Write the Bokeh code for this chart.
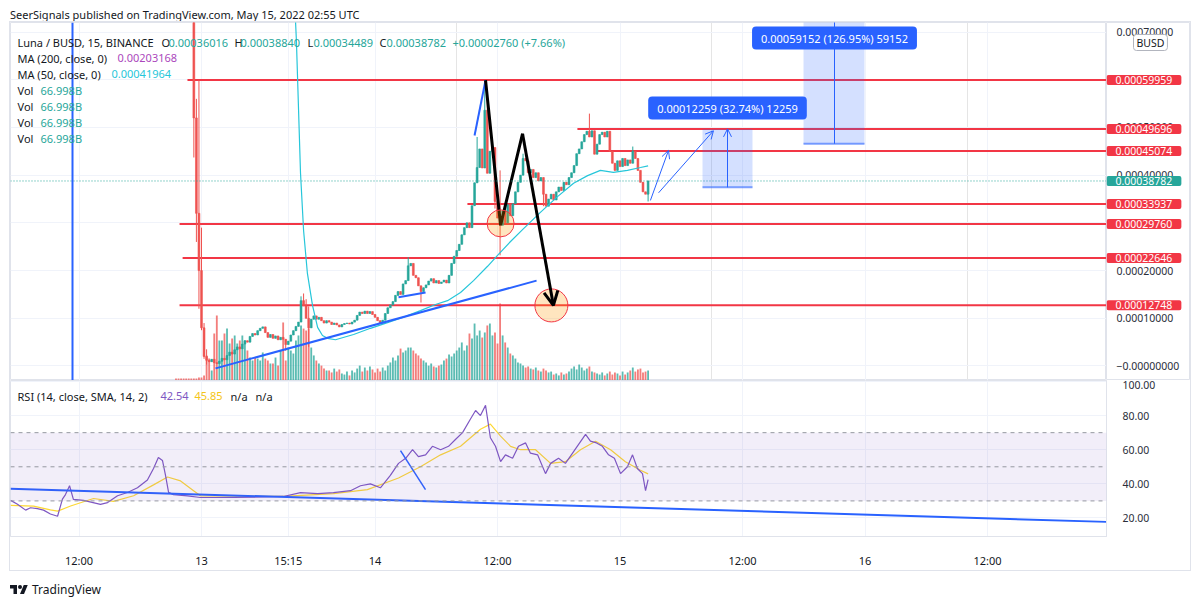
import numpy as np
from bokeh.plotting import figure
from bokeh.layouts import column, row
from bokeh.models import (Range1d, FixedTicker, PrintfTickFormatter, Label, Span, Arrow,
                          OpenHead, Div, BoxAnnotation, Grid)
from bokeh.core.properties import value
from bokeh.embed import file_html
from bokeh.resources import INLINE

UNIT = 1e-5  # prices below are listed in units of 0.00001 BUSD

# ---------------- data ----------------
# 15-minute bars, bar 0 = May 13 00:00 (time axis compresses the halted hours)
candle_first_bar = -3
candle_first_open = 76.0
candle_close = [
    52, 32, 20, 8, 2.0, 1.2, 0.9, 1.4, 0.7, 0.5,
    1.0, 1.6, 1.3, 2.2, 2.9, 2.5, 3.4, 4.0, 3.6, 4.6,
    5.3, 5.0, 6.2, 6.8, 6.5, 7.4, 7.9, 8.2, 7.0, 6.0,
    6.6, 5.8, 6.3, 5.5, 6.0, 5.6, 4.5, 5.2, 6.5, 7.4,
    8.3, 9.2, 13.7, 12.6, 10.0, 8.0, 9.8, 10.5, 9.8, 10.2,
    9.5, 9.0, 9.5, 9.2, 8.7, 9.0, 8.6, 8.2, 8.7, 8.9,
    9.0, 8.8, 9.2, 9.6, 10.6, 11.3, 11.0, 11.5, 11.0, 11.4,
    10.8, 10.2, 9.5, 9.0, 9.6, 11.0, 12.2, 12.8, 13.5, 14.8,
    15.6, 15.0, 17.2, 17.9, 21.0, 21.5, 19.0, 18.5, 16.8, 15.6,
    16.4, 17.0, 17.8, 18.3, 17.4, 17.9, 17.3, 17.6, 18.0, 17.4,
    19.0, 21.5, 23.0, 24.2, 25.5, 27.5, 29.0, 30.0, 29.0, 33.6,
    38.4, 41.6, 45.5, 41.5, 53.6, 40.4, 45.0, 45.8, 34.5, 31.0,
    29.5, 32.5, 30.0, 33.8, 31.5, 34.0, 36.5, 38.5, 40.0, 43.5,
    43.0, 40.5, 41.2, 39.5, 40.5, 38.8, 39.5, 36.0, 33.5, 35.0,
    36.0, 34.8, 36.5, 37.5, 36.8, 38.5, 38.0, 39.5, 40.5, 42.0,
    44.5, 45.5, 47.0, 48.5, 49.2, 48.0, 49.3, 44.4, 46.5, 48.5,
    49.0, 48.0, 49.2, 45.0, 42.5, 41.0, 43.0, 41.8, 43.5, 42.0,
    43.2, 42.5, 45.0, 43.5, 41.0, 38.5, 36.5, 36.016, 38.782,
]
candle_high = {-3: 78, -2: 56, -1: 59.9, 0: 29, 1: 9, 2: 3.5, 39: 14.6, 40: 15.2, 41: 14,
               42: 12.5, 81: 22.8, 108: 48, 111: 59.9, 112: 56, 117: 41, 126: 44.5,
               152: 52.9, 169: 46, 175: 38.84}
candle_low = {-3: 43.7, -2: 26, -1: 12, 0: 7.5, 1: 1.5, 2: 0.3, 33: 3.2, 42: 4.0, 86: 13.3,
              115: 33, 117: 23.2, 134: 33.5, 175: 34.489}

volume_first_bar = -10
volume_b = [  # billions of LUNA per bar
    13, 13, 13, 13, 13, 13, 13,
    13, 13, 20, 20, 34, 168, 147, 67, 315, 436, 268,
    268, 315, 348, 248, 281, 302, 248, 268, 302, 268,
    201, 154, 134, 154, 147, 134, 188, 147, 134, 114,
    114, 154, 100, 201, 389, 134, 221, 201, 181, 268,
    302, 369, 348, 335, 348, 221, 168, 134, 114, 100,
    80, 67, 67, 54, 80, 60, 74, 47, 40, 60,
    34, 67, 54, 80, 100, 60, 87, 67, 94, 74,
    54, 80, 60, 87, 67, 100, 121, 154, 134, 168,
    214, 188, 201, 221, 221, 201, 181, 168, 147, 134,
    121, 100, 114, 94, 87, 100, 107, 134, 147, 174,
    161, 181, 201, 221, 255, 201, 235, 315, 281, 382,
    302, 335, 288, 322, 369, 382, 302, 322, 248, 516,
    302, 255, 221, 181, 168, 147, 121, 114, 100, 87,
    94, 80, 74, 87, 67, 60, 80, 67, 54, 60,
    40, 47, 34, 54, 40, 47, 60, 80, 94, 74,
    107, 87, 67, 80, 94, 60, 54, 47, 40, 54,
    34, 47, 60, 40, 54, 47, 34, 60, 40, 54,
    67, 87, 60, 74, 80, 54, 60, 66.998,
]

ma50_bar = [36.2, 37.2, 38.8, 40.0, 41.5, 43.5, 45.5, 47.4, 49.4, 52.5, 59.6, 66.2, 72.9,
            80.0, 85.8, 91.7, 96.4, 101.5, 106.6, 112.1, 116.0, 121.1, 126.2, 132.8, 139.5,
            145.8, 151.3, 156.3, 161.4, 166.9, 172.0, 175.0]
ma50 = [80, 68, 40.4, 28.4, 19.4, 12.7, 8.1, 6.4, 5.8, 5.5, 6.6, 7.9, 9.1,
        10.4, 11.6, 12.9, 13.7, 15.4, 17.9, 20.9, 23.2, 26.1, 28.8, 32.2, 35.5,
        38.3, 39.9, 41.0, 40.6, 41.0, 41.6, 41.964]

rsi_bar = [-74.8, -72.1, -68.9, -67.0, -64.3, -61.9, -59.2, -56.4, -54.5, -53.3, -51.7, -50.2,
           -46.2, -39.6, -36.8, -32.9, -29.0, -25.1, -21.2, -18.8, -16.9, -15.3, -14.1, -12.9,
           -11.0, -5.5, -0.4, 12.5, 32.1, 38.8, 45.5, 51.7, 58.4, 62.3, 66.2, 70.1, 74.0, 77.2,
           80.0, 82.7, 85.0, 87.8, 90.5, 93.7, 96.8, 99.5, 102.3, 105.4, 107.4, 109.3, 111.3,
           113.2, 115.2, 117.2, 119.1, 121.9, 124.2, 127.0, 128.9, 131.7, 134.8, 136.8, 139.9,
           142.6, 145.4, 147.7, 150.5, 152.4, 154.8, 157.1, 159.5, 161.8, 164.2, 166.9, 168.9,
           170.8, 172.8, 174.0, 175.0]
rsi = [30.3, 28, 24.6, 26, 25.5, 24.6, 22.3, 21, 31, 33.7, 38.9, 30.9,
       30.3, 28, 29, 33, 34.9, 37.7, 42.3, 49, 55.4, 53.7, 45, 35,
       33.7, 33, 32, 32, 32.6, 34.9, 34.3, 34.9, 36, 38.9, 40, 37.7, 45, 52,
       55, 60, 56, 57, 62, 60, 62, 66, 70, 78, 83, 80, 86,
       67, 62, 53, 57, 55, 62, 64, 58, 57, 46, 52, 55,
       52, 58, 63, 69, 65, 64, 62, 57, 55, 46, 50, 57,
       49, 46, 36, 42.54]
rsi_sma_bar = [-74.8, -65.8, -59.2, -56.4, -51.3, -42.3, -34.5, -26.6, -18.8, -13.3, -8.2, -3.1,
               -0.4, 32.1, 51.7, 65.0, 77.2, 85.8, 93.7, 101.5, 109.3, 113.2, 117.2, 121.1,
               125.0, 130.9, 136.8, 142.6, 148.5, 154.4, 160.3, 166.1, 172.0, 175.0]
rsi_sma = [27.4, 26.9, 24.7, 24, 27, 31.4, 29.7, 33, 39.4, 44, 41.7, 36,
           33, 32.6, 34.3, 36.6, 43.4, 50, 57, 62, 72, 75, 68, 62,
           60, 60, 52, 53, 60, 65, 60, 53, 48, 45.85]

levels = [59.959, 49.696, 45.074, 33.937, 29.760, 22.646, 12.748]
level_start_bar = [-5.5, 147.3, 155.2, 104.2, -8.6, -7.4, -8.6]
last_close = 38.782

time_ticks = [-48, 0, 34, 68, 116, 164, 212, 260, 308]
time_labels = ["12:00", "13", "15:15", "14", "12:00", "15", "12:00", "16", "12:00"]
price_ticks = [0, 10, 20, 30, 40, 50, 60, 70]
price_tick_labels = ["\u22120.00000000", "0.00010000", "0.00020000", "0.00030000",
                     "0.00040000", "0.00050000", "0.00060000", "0.00070000"]
rsi_ticks = [20, 40, 60, 80, 100]

# measured moves (start price and move size)
move1_base, move1_size = 37.443, 12.259
move2_base, move2_size = 46.595, 59.152

# ---------------- geometry ----------------
W = 1200
PAD = 10                      # page margin left/right of the chart box
FRAME_L, FRAME_R = 10, 1106   # page x of the plotting area
SCALE_W = 84                  # width of the price scale column
MAIN_T, MAIN_B = 22, 380
RSI_T, RSI_B = 380, 540
BAR0_PX, PX_PER_BAR = 201, 2.552
x_lo = (FRAME_L - BAR0_PX) / PX_PER_BAR
x_hi = (FRAME_R - BAR0_PX) / PX_PER_BAR
p_lo, p_hi = -3.04 * UNIT, 72.0 * UNIT
r_lo, r_hi = 9.14, 100.57


def bx(px):
    return x_lo + (px - FRAME_L) * (x_hi - x_lo) / (FRAME_R - FRAME_L)


def py(y):
    return p_hi - (y - MAIN_T) * (p_hi - p_lo) / (MAIN_B - MAIN_T)


def ry(y):
    return r_hi - (y - RSI_T) * (r_hi - r_lo) / (RSI_B - RSI_T)


FONT = "Noto Sans"
DARK = "#131722"
AXIS_TXT = "#2a2e39"
TEAL = "#26a69a"
RED = "#ef5350"
LINE_RED = "#f23645"
BLUE = "#2962ff"
GRID = "#f0f3fa"
BORDER = "#e0e3eb"

x_range = Range1d(x_lo, x_hi)
price_range = Range1d(p_lo, p_hi)

# ---------------- main pane ----------------
p = figure(width=FRAME_R - FRAME_L, height=MAIN_B - MAIN_T, x_range=x_range, y_range=price_range,
           x_axis_location=None, y_axis_location=None, output_backend="svg",
           toolbar_location=None, min_border_left=0, min_border_right=0,
           min_border_top=0, min_border_bottom=0)
p.outline_line_color = BORDER
p.background_fill_color = "white"
p.add_layout(Grid(dimension=0, ticker=FixedTicker(ticks=time_ticks), grid_line_color=GRID))
p.add_layout(Grid(dimension=1, ticker=FixedTicker(ticks=[t * UNIT for t in price_ticks]),
                  grid_line_color=GRID))

# volume overlay
p.extra_y_ranges = {"vol": Range1d(0, 2400)}
n_c = len(candle_close)
c_bars = np.arange(candle_first_bar, candle_first_bar + n_c)
c_close = np.array(candle_close, dtype=float)
c_open = np.concatenate([[candle_first_open], c_close[:-1]])
c_up = c_close >= c_open
c_high = np.array([candle_high.get(int(b), max(o, c)) for b, o, c in zip(c_bars, c_open, c_close)])
c_low = np.array([candle_low.get(int(b), min(o, c)) for b, o, c in zip(c_bars, c_open, c_close)])
c_col = [TEAL if u else RED for u in c_up]

v_bars = np.arange(volume_first_bar, volume_first_bar + len(volume_b))
dir_by_bar = dict(zip(c_bars.tolist(), c_up.tolist()))
v_col = [TEAL if dir_by_bar.get(int(b), False) else RED for b in v_bars]
p.vbar(x=v_bars, width=0.72, bottom=0, top=volume_b, y_range_name="vol",
       fill_color=v_col, fill_alpha=0.75, line_color=None)

# horizontal levels
for lv, start in zip(levels, level_start_bar):
    p.segment(x0=start, y0=lv * UNIT, x1=x_hi, y1=lv * UNIT, line_color=LINE_RED, line_width=2)

# last price line
p.add_layout(Span(location=last_close * UNIT, dimension="width", line_color=TEAL,
                  line_dash="1 2", line_width=1))

# candles
p.segment(x0=c_bars, y0=c_low * UNIT, x1=c_bars, y1=c_high * UNIT, line_color=c_col, line_width=1)
p.vbar(x=c_bars, width=0.72, bottom=np.minimum(c_open, c_close) * UNIT,
       top=np.maximum(c_open, c_close) * UNIT, fill_color=c_col, line_color=c_col, line_width=0.6)

# moving average 50
p.line(ma50_bar, [v * UNIT for v in ma50], line_color="#26c6da", line_width=1.2)

# drawings
p.add_layout(Span(location=bx(72), dimension="height", line_color=BLUE, line_width=2))
trend_x, trend_y = [5.5, 131.3], [-0.5, 17.9]
p.line(trend_x, [v * UNIT for v in trend_y], line_color=BLUE, line_width=2)
p.line([77.2, 87.8], [14.4 * UNIT, 15.4 * UNIT], line_color=BLUE, line_width=2)
p.line([107.0, 111.3], [48.3 * UNIT, 59.9 * UNIT], line_color=BLUE, line_width=2)

zig_x, zig_y = [111.3, 117.2, 125.8], [59.9, 29.5, 48.7]
p.line(zig_x, [v * UNIT for v in zig_y], line_color="black", line_width=3)
p.add_layout(Arrow(end=OpenHead(size=14, line_color="black", line_width=3),
                   x_start=125.8, y_start=48.7 * UNIT, x_end=137.9, y_end=12.7 * UNIT,
                   line_color="black", line_width=3))
p.scatter([117.2, 137.1], [29.9 * UNIT, 12.7 * UNIT], size=[27, 33], marker="circle",
          fill_color="#ff9800", fill_alpha=0.25, line_color=LINE_RED, line_width=1)

for (xs, ys, xe, ye) in [(175.9, 34.7, 183.0, 45.2), (179.1, 36.3, 200.6, 49.3)]:
    p.add_layout(Arrow(end=OpenHead(size=8, line_color=BLUE, line_width=1),
                       x_start=xs, y_start=ys * UNIT, x_end=xe, y_end=ye * UNIT,
                       line_color=BLUE, line_width=1))

# measured moves
m1_l, m1_r, m1_c = bx(702), bx(752), bx(727)
p.add_layout(BoxAnnotation(left=m1_l, right=m1_r, bottom=move1_base * UNIT,
                           top=(move1_base + move1_size) * UNIT, fill_color=BLUE,
                           fill_alpha=0.2, line_color=None))
p.segment(x0=m1_l, y0=move1_base * UNIT, x1=m1_r, y1=move1_base * UNIT, line_color=BLUE,
          line_alpha=0.6, line_width=2)
p.add_layout(Arrow(end=OpenHead(size=8, line_color=BLUE, line_width=1), x_start=m1_c,
                   y_start=move1_base * UNIT, x_end=m1_c, y_end=(move1_base + move1_size) * UNIT,
                   line_color=BLUE, line_width=1))
m2_l, m2_r, m2_c = bx(803), bx(864), bx(834)
p.add_layout(BoxAnnotation(left=m2_l, right=m2_r, bottom=move2_base * UNIT,
                           top=(move2_base + move2_size) * UNIT, fill_color=BLUE,
                           fill_alpha=0.2, line_color=None))
p.segment(x0=m2_l, y0=move2_base * UNIT, x1=m2_r, y1=move2_base * UNIT, line_color=BLUE,
          line_alpha=0.6, line_width=2)
p.segment(x0=m2_c, y0=move2_base * UNIT, x1=m2_c, y1=(move2_base + move2_size) * UNIT,
          line_color=BLUE, line_width=1)


def move_text(size, base):
    return f"{size * UNIT:.8f} ({size / base * 100:.2f}%) {round(size * 1000)}"


for cx, cy, size, base in [(m1_c, py(107.5), move1_size, move1_base),
                           (m2_c, py(37.5), move2_size, move2_base)]:
    p.add_layout(Label(x=cx, y=cy, text=move_text(size, base), text_align="center",
                       text_baseline="middle", text_color="white", text_font=FONT,
                       text_font_size="11px", background_fill_color=BLUE,
                       padding=(9, 4), border_radius=4))


def legend(fig, yconv, ypx, parts, size="11px"):
    for txt, xpx, col in parts:
        fig.add_layout(Label(x=bx(xpx), y=yconv(ypx), text=txt, text_align="left",
                             text_baseline="middle", text_color=col, text_font=FONT,
                             text_font_size=size))


legend(p, py, 42, [("Luna / BUSD, 15, BINANCE", 17, DARK), ("O", 161, DARK),
                   ("0.00036016", 168, TEAL), ("H", 234, DARK), ("0.00038840", 240, TEAL),
                   ("L", 307, DARK), ("0.00034489", 313, TEAL), ("C", 379, DARK),
                   ("0.00038782", 386, TEAL), ("+0.00002760 (+7.66%)", 452, TEAL)])
legend(p, py, 57.5, [("MA (200, close, 0)", 17, DARK), ("0.00203168", 117, "#ab47bc")])
legend(p, py, 73.5, [("MA (50, close, 0)", 17, DARK), ("0.00041964", 111, "#26c6da")])
for yy in [90, 106, 122, 138]:
    legend(p, py, yy, [("Vol", 17, DARK), ("66.998B", 40, TEAL)])

# ---------------- price scale (right of the main pane) ----------------
s = figure(width=SCALE_W, height=MAIN_B - MAIN_T, x_range=Range1d(0, SCALE_W),
           y_range=price_range, x_axis_location=None, y_axis_location=None,
           output_backend="svg", toolbar_location=None, min_border_left=0,
           min_border_right=0, min_border_top=0, min_border_bottom=0)
s.outline_line_color = BORDER
s.grid.grid_line_color = None
s.text(x=[10] * len(price_ticks), y=[t * UNIT for t in price_ticks], text=price_tick_labels,
       text_align="left", text_baseline="middle", text_font=value(FONT),
       text_font_size="10.5px", text_color=AXIS_TXT)
for lv in levels:
    s.add_layout(Label(x=0, y=lv * UNIT, text=f"{lv * UNIT:.8f}", text_align="left",
                       text_baseline="middle", text_color="white", text_font=FONT,
                       text_font_size="10.5px", background_fill_color=LINE_RED,
                       padding=(9, 1), border_radius=2))
s.add_layout(Label(x=0, y=last_close * UNIT, text=f"{last_close * UNIT:.8f}", text_align="left",
                   text_baseline="middle", text_color="white", text_font=FONT,
                   text_font_size="10.5px", background_fill_color=TEAL,
                   padding=(9, 1), border_radius=2))
s.add_layout(Label(x=27, y=py(42), text="BUSD", text_align="left",
                   text_baseline="middle", text_color=DARK, text_font=FONT,
                   text_font_size="10.5px", background_fill_color="white",
                   border_line_color="#b2b5be", padding=(3, 1), border_radius=3))

# ---------------- RSI pane ----------------
r = figure(width=W - 2 * PAD, height=570 - RSI_T, x_range=x_range, y_range=Range1d(r_lo, r_hi),
           y_axis_location="right", output_backend="svg", toolbar_location=None,
           min_border_left=0, min_border_right=SCALE_W, min_border_top=0,
           min_border_bottom=30)
r.outline_line_color = BORDER
r.ygrid.grid_line_color = GRID
r.xgrid.grid_line_color = GRID
rx = r.xaxis[0]
rx.ticker = FixedTicker(ticks=time_ticks)
rx.major_label_overrides = dict(zip(time_ticks, time_labels))
rx.axis_line_color = BORDER
rx.major_tick_line_color = None
rx.minor_tick_line_color = None
rx.major_label_standoff = 10
rx.major_label_text_font = FONT
rx.major_label_text_font_size = "11px"
rx.major_label_text_color = DARK
r.xgrid.ticker = FixedTicker(ticks=time_ticks)
ryx = r.yaxis[0]
ryx.ticker = FixedTicker(ticks=rsi_ticks)
ryx.formatter = PrintfTickFormatter(format="%.2f")
ryx.axis_line_color = BORDER
ryx.major_tick_line_color = None
ryx.minor_tick_line_color = None
ryx.major_label_standoff = 10
ryx.major_label_text_font = FONT
ryx.major_label_text_font_size = "10.5px"
ryx.major_label_text_color = AXIS_TXT
r.ygrid.ticker = FixedTicker(ticks=rsi_ticks)

r.add_layout(BoxAnnotation(bottom=30, top=70, fill_color="#7e57c2", fill_alpha=0.1,
                           line_color=None))
for lv in [70, 50, 30]:
    r.add_layout(Span(location=lv, dimension="width", line_color="#9598a1",
                      line_dash="4 4", line_width=1))
r.line(rsi_sma_bar, rsi_sma, line_color="#fdd835", line_width=1.2)
r.line(rsi_bar, rsi, line_color="#7e57c2", line_width=1.2)
r.line([bx(10), bx(1106)], [ry(491), ry(525)], line_color=BLUE, line_width=2)
r.line([bx(400), bx(425)], [ry(452), ry(492)], line_color=BLUE, line_width=1.5)

legend(r, ry, 396, [("RSI (14, close, SMA, 14, 2)", 17, DARK), ("42.54", 160, "#7e57c2"),
                    ("45.85", 194, "#f5c518"), ("n/a", 230, DARK), ("n/a", 255, DARK)])

# ---------------- header / footer ----------------
header = Div(text='<div style="position:relative; top:6px; left:10px; line-height:18px; '
                  'white-space:nowrap;">SeerSignals published on TradingView.com, '
                  'May 15, 2022 02:55 UTC</div>',
             width=W, height=MAIN_T, margin=0,
             styles={"font-family": FONT, "font-size": "11px", "color": DARK})
logo = ('<svg width="18" height="14" viewBox="0 0 36 28">'
        '<path d="M14 22H7V11H0V4h14v18z" fill="#131722"/>'
        '<circle cx="20" cy="8" r="4" fill="#131722"/>'
        '<path d="M28 22h-8l7.5-18h8L28 22z" fill="#131722"/></svg>')
footer = Div(text='<div style="position:relative; top:11px; left:10px; display:flex; '
                  'align-items:center; white-space:nowrap;">' + logo +
                  '<span style="margin-left:4px;">TradingView</span></div>',
             width=W, height=605 - 570, margin=0,
             styles={"font-family": FONT, "font-size": "12px", "color": DARK})

chart = column(row(p, s, spacing=0), r, spacing=0, width=W - 2 * PAD,
               margin=(0, PAD, 0, PAD), styles={"outline": f"1px solid {BORDER}"})
layout = column(header, chart, footer, spacing=0)
open("out.html", "w").write(file_html(layout, INLINE))
